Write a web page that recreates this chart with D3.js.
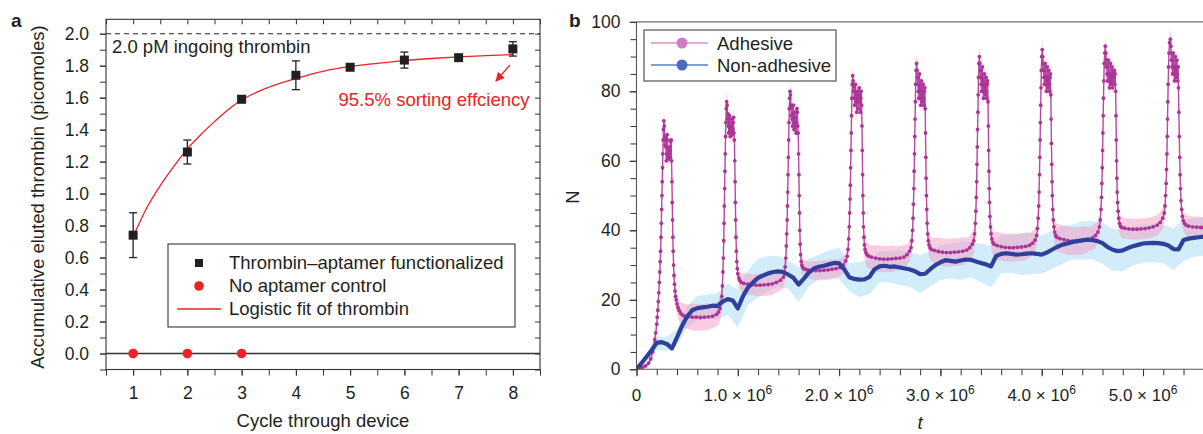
<!DOCTYPE html>
<html><head><meta charset="utf-8">
<script src="https://cdn.jsdelivr.net/npm/d3@7"></script>
<style>
body{margin:0;background:#fff}
svg{display:block}
text{font-family:"Liberation Sans",Arial,Helvetica,sans-serif;fill:#231f20}
</style>
</head><body>
<svg id="c" width="1203" height="434"></svg>
<script>
// ---------- Panel a data ----------
const cycles = [1, 2, 3, 4, 5, 6, 7, 8];
const thrombin = [0.74, 1.26, 1.59, 1.74, 1.79, 1.835, 1.85, 1.905];
const thrombinErr = [0.14, 0.075, 0.02, 0.09, 0.01, 0.05, 0.01, 0.045];
const controlCycles = [1, 2, 3];
const controlValues = [0, 0, 0];
const fitX = [1, 1.25, 1.5, 1.75, 2, 2.25, 2.5, 2.75, 3, 3.5, 4, 4.5, 5, 5.5, 6, 6.5, 7, 7.5, 8];
const fitY = [0.73, 0.91, 1.05, 1.17, 1.28, 1.37, 1.45, 1.525, 1.585, 1.665, 1.72, 1.765, 1.795, 1.815, 1.832, 1.845, 1.855, 1.863, 1.87];
const yTicksA = [0, 0.2, 0.4, 0.6, 0.8, 1.0, 1.2, 1.4, 1.6, 1.8, 2.0];
const xTicksA = [1, 2, 3, 4, 5, 6, 7, 8];
const legendA = ["Thrombin\u2013aptamer functionalized", "No aptamer control", "Logistic fit of thrombin"];

// ---------- Panel b data (t in units of 10^6) ----------
const nonAdhesiveStep = 0.05;
const nonAdhesive = [0,1.8,3.6,5.5,7.6,7.8,7.3,6.0,9.2,12.5,15.2,17.0,17.6,17.8,18.0,18.3,18.2,19.5,20.2,19.8,
  17.5,21.0,23.5,25.0,26.3,27.0,27.6,28.0,28.2,28.0,27.2,26.3,24.4,26.0,27.8,29.0,29.5,29.8,30.2,30.6,
  30.5,28.8,26.5,26.0,25.8,25.9,26.6,28.8,29.6,29.8,29.5,29.6,29.3,29.0,28.7,28.2,27.4,27.5,28.8,30.0,
  30.8,31.4,31.2,31.0,31.3,31.6,31.5,31.0,30.6,30.2,29.6,32.6,33.2,33.4,33.2,33.0,33.1,33.3,33.4,33.2,
  33.0,33.6,34.4,35.2,35.8,36.2,36.6,36.9,37.1,37.3,37.2,36.9,36.3,35.2,34.4,34.0,34.2,34.9,35.4,35.8,
  36.2,36.3,36.4,36.3,36.1,35.6,34.6,34.5,37.2,37.6,37.8,38.0,38.2];
const nonAdhesiveSdStep = 0.1;
const nonAdhesiveSd = [0.5,1.2,2.0,2.0,2.5,3.0,3.5,3.5,3.8,4.5,5.5,5.0,5.5,5.0,4.5,4.0,5.0,4.0,3.5,4.0,
  4.5,4.0,5.0,5.0,4.5,4.5,5.0,5.0,5.5,5.0,5.0,5.0,5.5,5.0,5.5,6.0,5.5,5.5,6.0,6.0,
  5.5,5.5,5.5,5.0,5.5,5.5,6.0,6.0,6.0,5.5,5.5,5.5,5.5,6.0,6.0,5.5,5.5];
const adhesiveSdStep = 0.1;
const adhesiveSd = [0.3,0.8,2,3,3,3.5,3.8,3.8,3.5,3,2.5,3,3.2,3.2,3,3,2.5,2.5,2.8,2.8,
  2.5,2.5,3,3.5,3.8,3.8,3.5,3,3,3.5,4,4,4,3.5,3,3.5,4,4,4,3.5,
  3,3.5,4,4,4,3.5,3,3,3,3,3,3,3,3,3,3,3];
// adhesive series: [t, N]
const adhesive = [
 [0,0],[0.03,0.3],[0.06,0.6],[0.09,1.0],[0.12,1.8],[0.14,3.0],
 [0.16,5],[0.17,6.5],[0.18,8.5],[0.19,10.5],[0.2,13],[0.205,15],[0.21,17],[0.215,19.5],[0.22,22],[0.225,25],[0.23,28],[0.234,31],[0.238,34],[0.242,38],[0.245,42],[0.248,46],[0.251,50],[0.254,54],[0.257,58],[0.26,62],[0.263,66],[0.266,69],[0.27,71.5],
 [0.274,70],[0.278,66],[0.282,64.5],[0.286,67],[0.29,64],[0.294,60],[0.298,62],[0.302,67.5],[0.306,66],[0.31,61],[0.314,63],[0.318,60.5],[0.322,62],[0.326,64],[0.33,61],[0.334,63],[0.338,65.5],[0.342,66],[0.346,60],
 [0.35,54],[0.353,48],[0.356,43],[0.359,38],[0.362,34],[0.366,30],[0.37,27],[0.375,24.5],[0.38,22.5],[0.386,21],[0.392,20],[0.4,18.8],[0.41,17.8],[0.42,17],[0.435,16.2],[0.45,15.7],
 [0.47,15.4],[0.51,15.2],[0.55,15.0],[0.59,15.0],[0.63,14.9],[0.67,15.0],[0.71,15.1],[0.75,15.3],[0.79,15.8],[0.81,16.5],
 [0.825,17.5],[0.835,19],[0.842,21],[0.848,24],[0.853,28],[0.857,32],[0.861,37],[0.864,42],[0.867,47],[0.87,52],[0.873,57],[0.876,62],[0.879,67],[0.882,71],[0.886,75],[0.89,77],
 [0.894,76],[0.898,72],[0.902,73.5],[0.906,70],[0.91,68],[0.914,71],[0.918,73],[0.922,69],[0.926,67],[0.93,70],[0.934,68.5],[0.938,72],[0.942,70],[0.946,67.5],[0.95,69],[0.954,71],[0.958,72.5],[0.962,68],[0.966,66],
 [0.97,60],[0.973,54],[0.976,48],[0.979,43],[0.982,38],[0.986,34],[0.99,31],[0.995,29],[1.0,27.5],[1.01,26.3],[1.02,25.6],[1.035,25.0],
 [1.06,24.7],[1.1,24.5],[1.14,24.3],[1.18,24.2],[1.22,24.2],[1.26,24.3],[1.3,24.4],[1.34,24.6],[1.38,25.0],[1.42,25.6],[1.45,26.5],
 [1.46,27.5],[1.468,29.5],[1.474,32],[1.479,35.5],[1.483,39],[1.487,43],[1.49,47],[1.493,51],[1.496,56],[1.499,61],[1.502,66],[1.505,71],[1.508,75],[1.512,78],[1.516,80],
 [1.52,79],[1.524,76],[1.528,73],[1.532,75.5],[1.536,72],[1.54,70],[1.544,73.5],[1.548,76],[1.552,72],[1.556,69],[1.56,71],[1.564,74],[1.568,72.5],[1.572,70],[1.576,68],[1.58,71],[1.584,75],[1.588,74],[1.592,70],[1.596,68],
 [1.6,62],[1.603,56],[1.606,50],[1.609,45],[1.612,40],[1.616,36],[1.62,33],[1.626,31],[1.632,30],[1.64,29.4],[1.65,29],[1.665,28.8],
 [1.69,28.6],[1.73,28.5],[1.77,28.4],[1.81,28.4],[1.85,28.5],[1.89,28.6],[1.93,28.8],[1.97,29.0],[2.01,29.3],[2.04,30.0],[2.065,31.2],
 [2.08,32.5],[2.088,34.5],[2.095,37.5],[2.1,41],[2.104,45],[2.108,49],[2.111,53],[2.114,58],[2.117,63],[2.12,68],[2.123,73],[2.126,78],[2.13,82],[2.134,84.5],
 [2.138,83],[2.142,80],[2.146,81.5],[2.15,78],[2.154,76],[2.158,80],[2.162,82],[2.166,79],[2.17,77],[2.174,74],[2.178,78],[2.182,80],[2.186,77],[2.19,75],[2.194,78],[2.198,81],[2.202,79],[2.206,77],[2.21,74],[2.214,78],[2.218,80],[2.222,76],
 [2.226,70],[2.229,63],[2.232,56],[2.235,50],[2.238,45],[2.241,41],[2.245,38],[2.25,35.8],[2.256,34.5],[2.264,33.6],[2.275,33],[2.29,32.6],
 [2.32,32.3],[2.36,32.0],[2.4,31.8],[2.44,31.7],[2.48,31.7],[2.52,31.8],[2.56,31.9],[2.6,32.0],[2.64,32.3],[2.67,33.0],[2.695,34.0],
 [2.71,35],[2.718,37],[2.725,40],[2.73,43.5],[2.734,47.5],[2.738,52],[2.741,57],[2.744,62],[2.747,67],[2.75,72],[2.753,77],[2.756,82],[2.76,86],[2.765,88],
 [2.77,86],[2.774,82],[2.778,84],[2.782,80],[2.786,78],[2.79,82],[2.794,85],[2.798,81],[2.802,78],[2.806,76],[2.81,80],[2.814,83],[2.818,79],[2.822,77],[2.826,80],[2.83,82],[2.834,78],[2.838,76],[2.842,80],[2.846,81],
 [2.85,75],[2.853,68],[2.856,61],[2.859,55],[2.862,50],[2.865,46],[2.869,42],[2.874,39],[2.88,37],[2.888,35.8],[2.898,35],[2.91,34.5],
 [2.94,34.2],[2.98,33.9],[3.02,33.7],[3.06,33.6],[3.1,33.6],[3.14,33.7],[3.18,33.8],[3.22,34.0],[3.26,34.3],[3.29,35.0],[3.315,36.0],
 [3.33,37],[3.338,39],[3.345,42],[3.35,45.5],[3.354,49.5],[3.358,54],[3.361,59],[3.364,64],[3.367,69],[3.37,74],[3.373,79],[3.376,84],[3.38,88],[3.385,90],
 [3.39,88],[3.394,84],[3.398,86],[3.402,82],[3.406,80],[3.41,84],[3.414,87],[3.418,83],[3.422,80],[3.426,78],[3.43,82],[3.434,85],[3.438,81],[3.442,79],[3.446,82],[3.45,84],[3.454,80],[3.458,78],[3.462,82],[3.466,83],
 [3.47,77],[3.473,70],[3.476,63],[3.479,57],[3.482,52],[3.485,48],[3.489,44],[3.494,41],[3.5,39],[3.508,37.5],[3.518,36.5],[3.53,36],
 [3.56,35.6],[3.6,35.3],[3.64,35.1],[3.68,35.0],[3.72,35.0],[3.76,35.1],[3.8,35.2],[3.84,35.4],[3.88,35.7],[3.91,36.3],[3.935,37.2],
 [3.95,38.5],[3.958,40.5],[3.965,43.5],[3.97,47],[3.974,51],[3.978,56],[3.981,61],[3.984,66],[3.987,71],[3.99,76],[3.993,81],[3.996,86],[4.0,90],[4.005,92],
 [4.01,90],[4.014,86],[4.018,88],[4.022,84],[4.026,82],[4.03,86],[4.034,88],[4.038,84],[4.042,82],[4.046,80],[4.05,84],[4.054,87],[4.058,83],[4.062,81],[4.066,84],[4.07,86],[4.074,82],[4.078,80],[4.082,84],[4.086,85],
 [4.09,79],[4.093,72],[4.096,65],[4.099,59],[4.102,54],[4.105,50],[4.109,46],[4.114,43],[4.12,41],[4.128,39.5],[4.138,38.5],[4.15,38],
 [4.18,37.6],[4.22,37.3],[4.26,37.0],[4.3,36.9],[4.34,36.9],[4.38,37.0],[4.42,37.2],[4.46,37.4],[4.5,37.8],[4.53,38.5],[4.555,39.5],
 [4.57,41],[4.578,43],[4.585,46],[4.59,49.5],[4.594,53.5],[4.598,58],[4.601,63],[4.604,68],[4.607,73],[4.61,78],[4.613,83],[4.617,88],[4.622,91],[4.628,93],
 [4.633,91],[4.637,87],[4.641,89],[4.645,85],[4.649,83],[4.653,87],[4.657,89],[4.661,85],[4.665,83],[4.669,81],[4.673,85],[4.677,88],[4.681,84],[4.685,82],[4.689,85],[4.693,87],[4.697,83],[4.701,81],[4.705,85],[4.709,86],[4.713,84],[4.717,86],[4.721,82],[4.725,85],
 [4.73,80],[4.733,73],[4.736,66],[4.739,60],[4.742,55],[4.745,51],[4.749,48],[4.754,45.5],[4.76,43.5],[4.768,42],[4.778,41.2],[4.79,40.8],
 [4.82,40.6],[4.86,40.4],[4.9,40.3],[4.94,40.3],[4.98,40.4],[5.02,40.5],[5.06,40.7],[5.1,41.0],[5.14,41.5],[5.17,42.3],[5.195,43.5],
 [5.21,45],[5.217,47],[5.223,50],[5.228,53.5],[5.232,57.5],[5.236,62],[5.239,67],[5.242,72],[5.245,77],[5.248,82],[5.252,87],[5.256,91],[5.262,94],[5.27,95],
 [5.275,93],[5.279,89],[5.283,91],[5.287,87],[5.291,85],[5.295,89],[5.299,91],[5.303,87],[5.307,85],[5.311,83],[5.315,87],[5.319,90],[5.323,86],[5.327,84],[5.331,87],[5.335,89],[5.339,85],[5.343,83],[5.347,87],
 [5.35,81],[5.354,74],[5.358,67],[5.362,61],[5.366,56],[5.37,52],[5.375,48.5],[5.381,46],[5.388,44],[5.397,42.8],[5.41,42],[5.425,41.5],
 [5.45,41.2],[5.49,41.0],[5.53,40.9],[5.57,40.8],[5.6,40.8]
];
const yTicksB = [0, 20, 40, 60, 80, 100];
const xTicksB = [0, 1, 2, 3, 4, 5];
const legendB = ["Adhesive", "Non-adhesive"];

// ---------- drawing ----------
const svg = d3.select("#c");
const FS_TICK = 17.5, FS_LAB = 18.5;

function styleAxis(g, fs) {
  g.select(".domain").remove();
  g.selectAll("line").attr("stroke", "#333").attr("stroke-width", 1);
  g.selectAll("text").attr("font-size", fs).attr("fill", "#231f20")
    .attr("font-family", '"Liberation Sans",Arial,sans-serif');
}

// ===== Panel a =====
const xa = d3.scaleLinear().domain([0.5, 8.5]).range([106, 540]);
const ya = d3.scaleLinear().domain([-0.1, 2.09]).range([369.5, 19.3]);
const ga = svg.append("g");

ga.append("rect").attr("x", xa(0.5)).attr("y", ya(2.09))
  .attr("width", xa(8.5) - xa(0.5)).attr("height", ya(-0.1) - ya(2.09))
  .attr("fill", "none").attr("stroke", "#333").attr("stroke-width", 1.1);

const minorA = d3.range(-0.1, 2.05, 0.1).map(v => +v.toFixed(2));
const halfA = d3.range(0.5, 8.51, 0.5);
ga.append("g").attr("transform", `translate(${xa(0.5)},0)`)
  .call(d3.axisLeft(ya).tickValues(minorA).tickSize(6).tickFormat("")).call(g => styleAxis(g, FS_TICK));
ga.append("g").attr("transform", `translate(${xa(0.5)},0)`)
  .call(d3.axisLeft(ya).tickValues(yTicksA).tickSize(6).tickPadding(11).tickFormat(d3.format(".1f"))).call(g => styleAxis(g, FS_TICK));
ga.append("g").attr("transform", `translate(${xa(8.5)},0)`)
  .call(d3.axisLeft(ya).tickValues(minorA).tickSize(5).tickFormat("")).call(g => styleAxis(g, FS_TICK));
ga.append("g").attr("transform", `translate(0,${ya(2.09)})`)
  .call(d3.axisBottom(xa).tickValues(halfA).tickSize(5).tickFormat("")).call(g => styleAxis(g, FS_TICK));
ga.append("g").attr("transform", `translate(0,${ya(-0.1)})`)
  .call(d3.axisBottom(xa).tickValues(halfA).tickSize(6).tickFormat("")).call(g => styleAxis(g, FS_TICK));
ga.append("g").attr("transform", `translate(0,${ya(-0.1)})`)
  .call(d3.axisBottom(xa).tickValues(xTicksA).tickSize(6).tickPadding(11).tickFormat(d3.format("d"))).call(g => styleAxis(g, FS_TICK));

// reference lines
ga.append("line").attr("x1", xa(0.5)).attr("x2", xa(8.5)).attr("y1", ya(2.0)).attr("y2", ya(2.0))
  .attr("stroke", "#222").attr("stroke-width", 1.1).attr("stroke-dasharray", "5,4");
ga.append("line").attr("x1", xa(0.5)).attr("x2", xa(8.5)).attr("y1", ya(0)).attr("y2", ya(0))
  .attr("stroke", "#333").attr("stroke-width", 1.3);
ga.append("text").attr("x", xa(0.5) + 6).attr("y", ya(2.0) + 19).attr("font-size", FS_LAB).text("2.0 pM ingoing thrombin");

// fit
ga.append("path").datum(fitX.map((x, i) => [x, fitY[i]]))
  .attr("d", d3.line().x(d => xa(d[0])).y(d => ya(d[1])).curve(d3.curveMonotoneX))
  .attr("fill", "none").attr("stroke", "#ec2227").attr("stroke-width", 1.3);

// error bars + squares
const pts = cycles.map((c, i) => ({c, v: thrombin[i], e: thrombinErr[i]}));
const eb = ga.append("g").attr("stroke", "#231f20").attr("stroke-width", 1.3);
pts.forEach(p => {
  eb.append("line").attr("x1", xa(p.c)).attr("x2", xa(p.c)).attr("y1", ya(p.v - p.e)).attr("y2", ya(p.v + p.e));
  eb.append("line").attr("x1", xa(p.c) - 4).attr("x2", xa(p.c) + 4).attr("y1", ya(p.v - p.e)).attr("y2", ya(p.v - p.e));
  eb.append("line").attr("x1", xa(p.c) - 4).attr("x2", xa(p.c) + 4).attr("y1", ya(p.v + p.e)).attr("y2", ya(p.v + p.e));
});
ga.append("g").selectAll("rect").data(pts).join("rect")
  .attr("x", d => xa(d.c) - 4.5).attr("y", d => ya(d.v) - 4.5).attr("width", 9).attr("height", 9)
  .attr("fill", "#231f20");
ga.append("g").selectAll("circle").data(controlCycles.map((c, i) => [c, controlValues[i]])).join("circle")
  .attr("cx", d => xa(d[0])).attr("cy", d => ya(d[1])).attr("r", 4.8).attr("fill", "#ec2227");

// legend a
const lgA = ga.append("g");
lgA.append("rect").attr("x", 168).attr("y", 244).attr("width", 347).attr("height", 83)
  .attr("fill", "#fff").attr("stroke", "#333").attr("stroke-width", 1.1);
lgA.append("rect").attr("x", 195).attr("y", 259).attr("width", 8).attr("height", 8).attr("fill", "#231f20");
lgA.append("circle").attr("cx", 199).attr("cy", 286).attr("r", 4.8).attr("fill", "#ec2227");
lgA.append("line").attr("x1", 177).attr("x2", 221).attr("y1", 309).attr("y2", 309).attr("stroke", "#ec2227").attr("stroke-width", 1.3);
legendA.forEach((t, i) => lgA.append("text").attr("x", 229).attr("y", 269 + i * 23).attr("font-size", FS_LAB).text(t));

// annotation
ga.append("text").attr("x", 434).attr("y", 106).attr("text-anchor", "middle").attr("font-size", FS_LAB)
  .style("fill", "#ec2227").text("95.5% sorting effciency");
svg.append("defs").append("marker").attr("id", "arr").attr("viewBox", "0 0 10 10").attr("refX", 9).attr("refY", 5)
  .attr("markerWidth", 7).attr("markerHeight", 7).attr("orient", "auto")
  .append("path").attr("d", "M0,0 L10,5 L0,10 z").attr("fill", "#ec2227");
ga.append("line").attr("x1", 510).attr("y1", 65).attr("x2", 496).attr("y2", 81)
  .attr("stroke", "#ec2227").attr("stroke-width", 1.3).attr("marker-end", "url(#arr)");

// titles a
ga.append("text").attr("x", xa(4.5)).attr("y", 427).attr("text-anchor", "middle").attr("font-size", FS_LAB).text("Cycle through device");
ga.append("text").attr("transform", "translate(44,197) rotate(-90)").attr("text-anchor", "middle").attr("font-size", FS_LAB)
  .text("Accumulative eluted thrombin (picomoles)");
svg.append("text").attr("x", 11).attr("y", 27).attr("font-size", 19).attr("font-weight", "bold").text("a");

// ===== Panel b =====
const xb = d3.scaleLinear().domain([0, 5.6]).range([636.5, 1203.8]);
const yb = d3.scaleLinear().domain([0, 100]).range([369.3, 21.8]);
const gb = svg.append("g");
svg.select("defs").append("clipPath").attr("id", "clipb").append("rect")
  .attr("x", xb(0)).attr("y", yb(100)).attr("width", 1203 - xb(0)).attr("height", yb(0) - yb(100));

const plot = gb.append("g").attr("clip-path", "url(#clipb)");
const naData = nonAdhesive.map((v, i) => [i * nonAdhesiveStep, v]);
const naBand = nonAdhesiveSd.map((s, i) => {
  const t = i * nonAdhesiveSdStep;
  const v = nonAdhesive[Math.min(nonAdhesive.length - 1, Math.round(t / nonAdhesiveStep))];
  return [t, v - s, v + s];
});
plot.append("path").datum(naBand)
  .attr("d", d3.area().x(d => xb(d[0])).y0(d => yb(d[1])).y1(d => yb(d[2])).curve(d3.curveLinear))
  .attr("fill", "#a6daf4").attr("fill-opacity", 0.5);

const adBand = adhesive.map(([t, v]) => {
  const s = adhesiveSd[Math.min(adhesiveSd.length - 1, Math.round(t / adhesiveSdStep))];
  return [t, v - s, v + s];
});
plot.append("path").datum(adBand)
  .attr("d", d3.area().x(d => xb(d[0])).y0(d => yb(d[1])).y1(d => yb(d[2])))
  .attr("fill", "#f39cc4").attr("fill-opacity", 0.5);

plot.append("path").datum(adhesive)
  .attr("d", d3.line().x(d => xb(d[0])).y(d => yb(d[1])))
  .attr("fill", "none").attr("stroke", "#b8489f").attr("stroke-width", 1.4);
plot.append("g").selectAll("circle").data(adhesive).join("circle")
  .attr("cx", d => xb(d[0])).attr("cy", d => yb(d[1])).attr("r", 1.9).attr("fill", "#aa3597");

plot.append("path").datum(naData)
  .attr("d", d3.line().x(d => xb(d[0])).y(d => yb(d[1])))
  .attr("fill", "none").attr("stroke", "#2f3f9c").attr("stroke-width", 4.2).attr("stroke-linejoin", "round");

// axes b
gb.append("line").attr("x1", xb(0)).attr("x2", 1203).attr("y1", yb(100)).attr("y2", yb(100)).attr("stroke", "#6d6d6d").attr("stroke-width", 1.2);
gb.append("line").attr("x1", xb(0)).attr("x2", xb(0)).attr("y1", yb(100)).attr("y2", yb(0)).attr("stroke", "#555").attr("stroke-width", 1.1);
gb.append("line").attr("x1", xb(0)).attr("x2", 1203).attr("y1", yb(0)).attr("y2", yb(0)).attr("stroke", "#555").attr("stroke-width", 1.1);
gb.append("g").attr("transform", `translate(${xb(0)},0)`)
  .call(d3.axisLeft(yb).tickValues(d3.range(0, 101, 5)).tickSize(6).tickFormat("")).call(g => styleAxis(g, FS_TICK));
gb.append("g").attr("transform", `translate(${xb(0)},0)`)
  .call(d3.axisLeft(yb).tickValues(yTicksB).tickSize(7).tickPadding(9).tickFormat(d3.format("d"))).call(g => styleAxis(g, FS_TICK));
gb.append("g").attr("transform", `translate(0,${yb(0)})`)
  .call(d3.axisBottom(xb).tickValues(d3.range(0, 5.61, 0.2).map(v => +v.toFixed(1))).tickSize(6).tickFormat("")).call(g => styleAxis(g, FS_TICK));
gb.append("g").attr("transform", `translate(0,${yb(0)})`)
  .call(d3.axisBottom(xb).tickValues(xTicksB).tickSize(7).tickFormat("")).call(g => styleAxis(g, FS_TICK));
xTicksB.forEach(v => {
  const t = gb.append("text").attr("x", xb(v)).attr("y", 401).attr("text-anchor", "middle").attr("font-size", 17);
  if (v === 0) { t.text("0"); return; }
  t.append("tspan").text(d3.format(".1f")(v) + " \u00d7 10");
  t.append("tspan").attr("dy", -7).attr("font-size", 12).text("6");
});
gb.append("text").attr("x", xb(2.8)).attr("y", 429).attr("text-anchor", "middle").attr("font-size", FS_LAB)
  .attr("font-style", "italic").text("t");
gb.append("text").attr("transform", "translate(579,197) rotate(-90)").attr("text-anchor", "middle").attr("font-size", FS_LAB).text("N");
svg.append("text").attr("x", 569).attr("y", 27).attr("font-size", 19).attr("font-weight", "bold").text("b");

// legend b
const lgB = gb.append("g");
lgB.append("rect").attr("x", 644).attr("y", 30).attr("width", 192).attr("height", 51)
  .attr("fill", "#fff").attr("stroke", "#444").attr("stroke-width", 1.1);
const lcol = ["#d98fcf", "#5a7cc9"], mcol = ["#cf7cc3", "#4a6bc0"];
legendB.forEach((t, i) => {
  const y = 43 + i * 22;
  lgB.append("line").attr("x1", 651).attr("x2", 708).attr("y1", y).attr("y2", y).attr("stroke", lcol[i]).attr("stroke-width", 1.6);
  lgB.append("circle").attr("cx", 682).attr("cy", y).attr("r", 5.5).attr("fill", mcol[i]);
  lgB.append("text").attr("x", 717).attr("y", y + 6.5).attr("font-size", FS_LAB).text(t);
});
</script>
</body></html>
